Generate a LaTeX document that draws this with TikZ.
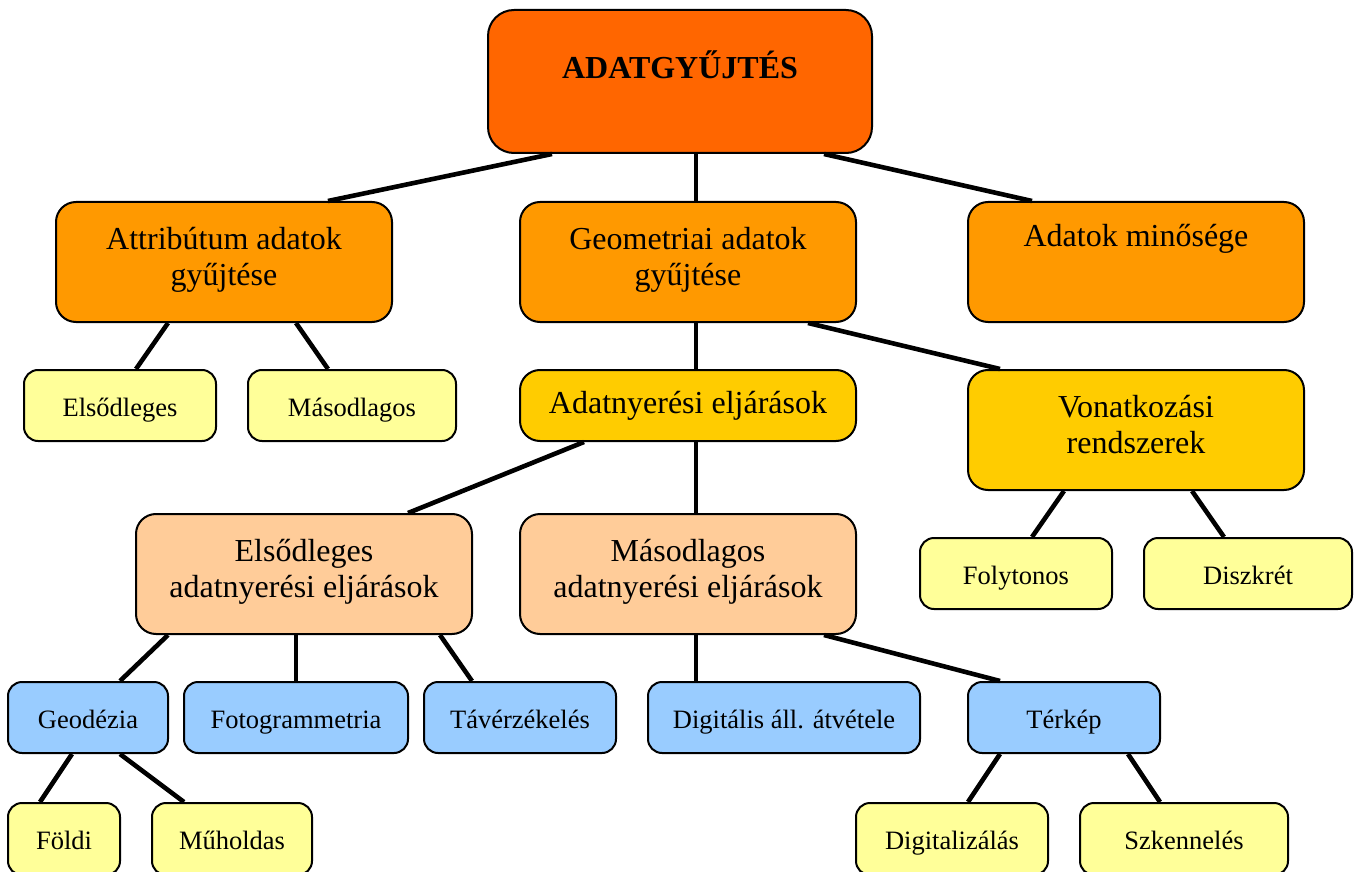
\documentclass[tikz,border=0pt]{standalone}
\usepackage{fontspec}
\setmainfont{Liberation Serif}
\definecolor{cTop}{HTML}{FF6600}
\definecolor{cMain}{HTML}{FF9900}
\definecolor{cGold}{HTML}{FFCC00}
\definecolor{cPeach}{HTML}{FFCC99}
\definecolor{cBlue}{HTML}{99CCFF}
\definecolor{cLight}{HTML}{FFFF99}
\begin{document}
\begin{tikzpicture}[x=0.5pt,y=-0.5pt,
    box/.style 2 args={draw,line width=1pt,rounded corners=10pt,inner sep=0pt,align=center,
        minimum width=#1*0.5pt,minimum height=#2*0.5pt,font=\fontsize{16}{18}\selectfont},
    twoline/.style={text depth=6pt},
    small/.style={rounded corners=7pt,font=\fontsize{13.25}{15}\selectfont,text height=12.5pt,text depth=2pt},
    link/.style={line width=2.3pt}]
    \useasboundingbox (0,0) rectangle (1361,872);
    \node[box={384}{143},fill=cTop,rounded corners=13pt,font=\bfseries\fontsize{16}{18}\selectfont,text height=12pt,text depth=15pt] (top) at (680,81.5) {ADATGYŰJTÉS};
    \node[box={336}{120},twoline,fill=cMain] (attr) at (224,262) {Attribútum adatok\\gyűjtése};
    \node[box={336}{120},twoline,fill=cMain] (geom) at (688,262) {Geometriai adatok\\gyűjtése};
    \node[box={336}{120},fill=cMain,text height=12pt,text depth=28pt] (qual) at (1136,262) {Adatok minősége};
    \node[box={192}{71},small,fill=cLight] (prim) at (120,405.5) {Elsődleges};
    \node[box={208}{71},small,fill=cLight] (sec) at (352,405.5) {Másodlagos};
    \node[box={336}{71},fill=cGold,text height=11.5pt,text depth=3.5pt] (nyer) at (688,405.5) {Adatnyerési eljárások};
    \node[box={336}{120},twoline,fill=cGold] (vonat) at (1136,430) {Vonatkozási\\rendszerek};
    \node[box={336}{120},twoline,fill=cPeach] (primny) at (304,574) {Elsődleges\\adatnyerési eljárások};
    \node[box={336}{120},twoline,fill=cPeach] (secny) at (688,574) {Másodlagos\\adatnyerési eljárások};
    \node[box={192}{71},small,fill=cLight] (foly) at (1016,573.5) {Folytonos};
    \node[box={208}{71},small,fill=cLight] (disz) at (1248,573.5) {Diszkrét};
    \node[box={160}{71},small,fill=cBlue] (geod) at (88,717.5) {Geodézia};
    \node[box={224}{71},small,fill=cBlue] (foto) at (296,717.5) {Fotogrammetria};
    \node[box={192}{71},small,fill=cBlue] (tav) at (520,717.5) {Távérzékelés};
    \node[box={272}{71},small,fill=cBlue] (digall) at (784,717.5) {Digitális áll. átvétele};
    \node[box={192}{71},small,fill=cBlue] (terkep) at (1064,717.5) {Térkép};
    \node[box={112}{72},small,fill=cLight] (foldi) at (64,839) {Földi};
    \node[box={160}{72},small,fill=cLight] (muhold) at (232,839) {Műholdas};
    \node[box={192}{72},small,fill=cLight] (digit) at (952,839) {Digitalizálás};
    \node[box={208}{72},small,fill=cLight] (szkenn) at (1184,839) {Szkennelés};
    \draw[link] ([shift={(-128,0)}]top.south) -- ([shift={(104,0)}]attr.north);
    \draw[link] ([shift={(16,0)}]top.south) -- ([shift={(8,0)}]geom.north);
    \draw[link] ([shift={(144,0)}]top.south) -- ([shift={(-104,0)}]qual.north);
    \draw[link] ([shift={(-56,0)}]attr.south) -- ([shift={(16,0)}]prim.north);
    \draw[link] ([shift={(72,0)}]attr.south) -- ([shift={(-24,0)}]sec.north);
    \draw[link] ([shift={(8,0)}]geom.south) -- ([shift={(8,0)}]nyer.north);
    \draw[link] ([shift={(120,0)}]geom.south) -- ([shift={(-136,0)}]vonat.north);
    \draw[link] ([shift={(-104,0)}]nyer.south) -- ([shift={(104,0)}]primny.north);
    \draw[link] ([shift={(8,0)}]nyer.south) -- ([shift={(8,0)}]secny.north);
    \draw[link] ([shift={(-72,0)}]vonat.south) -- ([shift={(16,0)}]foly.north);
    \draw[link] ([shift={(56,0)}]vonat.south) -- ([shift={(-24,0)}]disz.north);
    \draw[link] ([shift={(-136,0)}]primny.south) -- ([shift={(32,0)}]geod.north);
    \draw[link] ([shift={(-8,0)}]primny.south) -- (foto.north);
    \draw[link] ([shift={(136,0)}]primny.south) -- ([shift={(-48,0)}]tav.north);
    \draw[link] ([shift={(8,0)}]secny.south) -- ([shift={(-88,0)}]digall.north);
    \draw[link] ([shift={(136,0)}]secny.south) -- ([shift={(-64,0)}]terkep.north);
    \draw[link] ([shift={(-16,0)}]geod.south) -- ([shift={(-24,0)}]foldi.north);
    \draw[link] ([shift={(32,0)}]geod.south) -- ([shift={(-48,0)}]muhold.north);
    \draw[link] ([shift={(-64,0)}]terkep.south) -- ([shift={(16,0)}]digit.north);
    \draw[link] ([shift={(64,0)}]terkep.south) -- ([shift={(-24,0)}]szkenn.north);
\end{tikzpicture}
\end{document}
